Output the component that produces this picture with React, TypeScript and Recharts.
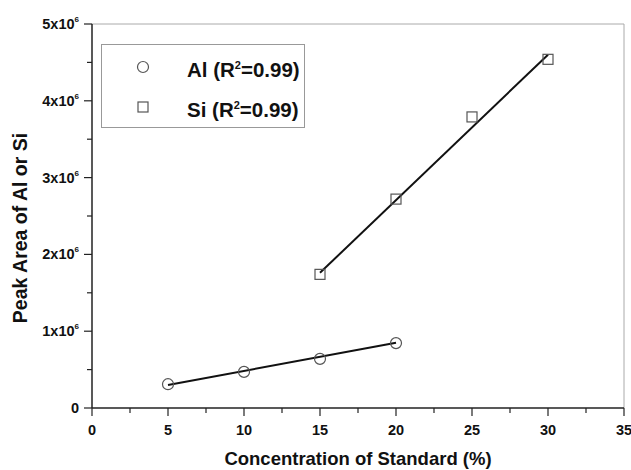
import { ComposedChart, Line, Scatter, XAxis, YAxis, ReferenceLine, Legend } from 'recharts';

// concentration (%) and peak area values
const alX = [5, 10, 15, 20];
const alY = [0.31e6, 0.47e6, 0.64e6, 0.845e6];
const siX = [15, 20, 25, 30];
const siY = [1.74e6, 2.72e6, 3.79e6, 4.54e6];

// linear fit end points
const alFitX = [5, 20];
const alFitY = [0.3e6, 0.85e6];
const siFitX = [15, 30];
const siFitY = [1.76e6, 4.6e6];

const xTicks = [0, 2.5, 5, 7.5, 10, 12.5, 15, 17.5, 20, 22.5, 25, 27.5, 30, 32.5, 35];
const yTicks = [0, 0.5e6, 1e6, 1.5e6, 2e6, 2.5e6, 3e6, 3.5e6, 4e6, 4.5e6, 5e6];

const alPts = alX.map((x, i) => ({ x, y: alY[i] }));
const siPts = siX.map((x, i) => ({ x, y: siY[i] }));
const alFit = alFitX.map((x, i) => ({ x, y: alFitY[i] }));
const siFit = siFitX.map((x, i) => ({ x, y: siFitY[i] }));

const FONT = 'Arial, "Liberation Sans", sans-serif';

const XTick = (props: any) => {
  const { x, y, payload } = props;
  const major = payload.value % 5 === 0;
  return (
    <g>
      <line x1={x} x2={x} y1={y} y2={y + (major ? 8 : 5)} stroke="#222" strokeWidth={1.2} />
      {major && (
        <text x={x} y={y + 27} textAnchor="middle" fontSize={14.5} fontWeight="bold" fill="#111" fontFamily={FONT}>
          {payload.value}
        </text>
      )}
    </g>
  );
};

const YTick = (props: any) => {
  const { x, y, payload } = props;
  const v = payload.value;
  const major = v % 1e6 === 0;
  return (
    <g>
      <line x1={x - (major ? 8 : 5)} x2={x} y1={y} y2={y} stroke="#222" strokeWidth={1.2} />
      {major && (
        <text x={x - 13} y={y + 5} textAnchor="end" fontSize={14.5} fontWeight="bold" fill="#111" fontFamily={FONT}>
          {v === 0 ? (
            '0'
          ) : (
            <>
              {`${v / 1e6}x10`}
              <tspan dy={-7} fontSize={8}>6</tspan>
            </>
          )}
        </text>
      )}
    </g>
  );
};

const circle = (props: any) => (
  <circle cx={props.cx} cy={props.cy} r={5.5} fill="none" stroke="#555" strokeWidth={1.2} />
);
const square = (props: any) => (
  <rect x={props.cx - 5} y={props.cy - 5} width={10} height={10} fill="none" stroke="#555" strokeWidth={1.2} />
);

const LegendBox = () => (
  <div
    style={{
      width: 204,
      height: 84,
      boxSizing: 'border-box',
      border: '1px solid #999',
      background: '#fff',
      position: 'relative',
      fontFamily: FONT,
      fontWeight: 'bold',
      fontSize: 20.5,
      color: '#111',
    }}
  >
    <svg width={204} height={84} style={{ position: 'absolute', left: -1, top: -1 }}>
      <circle cx={42} cy={23} r={5.5} fill="none" stroke="#555" strokeWidth={1.2} />
      <rect x={37} y={58} width={10} height={10} fill="none" stroke="#555" strokeWidth={1.2} />
    </svg>
    <div style={{ position: 'absolute', left: 85, top: 8, lineHeight: '24px' }}>
      Al (R<sup style={{ fontSize: 11 }}>2</sup>=0.99)
    </div>
    <div style={{ position: 'absolute', left: 85, top: 48, lineHeight: '24px' }}>
      Si (R<sup style={{ fontSize: 11 }}>2</sup>=0.99)
    </div>
  </div>
);

export default function App() {
  return (
    <div style={{ position: 'absolute', left: 0, top: 0, background: '#fff' }}>
      <ComposedChart width={631} height={470} margin={{ top: 24, right: 7, left: 0, bottom: 0 }}>
        <XAxis
          type="number"
          dataKey="x"
          domain={[0, 35]}
          ticks={xTicks}
          interval={0}
          height={62}
          tickSize={0}
          tickMargin={0}
          tickLine={false}
          tick={<XTick />}
          axisLine={{ stroke: '#222', strokeWidth: 1.5 }}
          label={{
            content: (p: any) => (
              <text
                x={p.viewBox.x + p.viewBox.width / 2}
                y={p.viewBox.y + 57}
                textAnchor="middle"
                fontSize={18.5}
                fontWeight="bold"
                fill="#111"
                fontFamily={FONT}
              >
                Concentration of Standard (%)
              </text>
            ),
          }}
        />
        <YAxis
          type="number"
          dataKey="y"
          domain={[0, 5e6]}
          ticks={yTicks}
          interval={0}
          width={92}
          tickSize={0}
          tickMargin={0}
          tickLine={false}
          tick={<YTick />}
          axisLine={{ stroke: '#222', strokeWidth: 1.5 }}
          label={{
            content: () => (
              <text
                x={27}
                y={228}
                transform="rotate(-90, 27, 228)"
                textAnchor="middle"
                fontSize={19.5}
                fontWeight="bold"
                fill="#111"
                fontFamily={FONT}
              >
                Peak Area of Al or Si
              </text>
            ),
          }}
        />
        <ReferenceLine y={5e6} stroke="#aaa" strokeWidth={1} />
        <ReferenceLine x={35} stroke="#aaa" strokeWidth={1} />
        <Legend
          layout="vertical"
          align="center"
          verticalAlign="middle"
          wrapperStyle={{ position: 'absolute', left: 101, top: 44, width: 204, height: 84 }}
          content={() => <LegendBox />}
        />
        <Line data={alFit} dataKey="y" stroke="#111" strokeWidth={2} dot={false} isAnimationActive={false} legendType="none" />
        <Line data={siFit} dataKey="y" stroke="#111" strokeWidth={2} dot={false} isAnimationActive={false} legendType="none" />
        <Scatter name="Al" data={alPts} dataKey="y" shape={circle} isAnimationActive={false} />
        <Scatter name="Si" data={siPts} dataKey="y" shape={square} isAnimationActive={false} />
      </ComposedChart>
    </div>
  );
}
